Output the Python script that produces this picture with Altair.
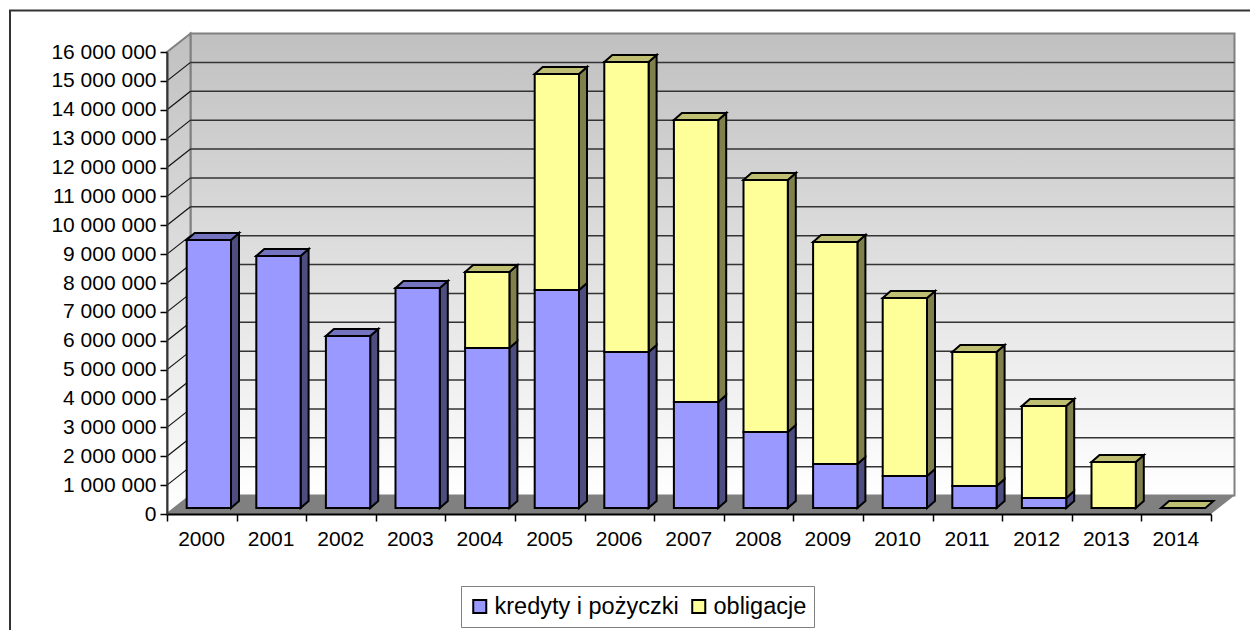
import altair as alt
import pandas as pd

years = list(range(2000, 2015))
kredyty = [9280000, 8730000, 5960000, 7620000, 5540000, 7550000, 5400000, 3670000,
           2630000, 1520000, 1110000, 760000, 350000, 0, 0]
obligacje = [0, 0, 0, 0, 2630000, 7480000, 10050000, 9770000,
             8730000, 7690000, 6160000, 4640000, 3180000, 1590000, 0]
series_names = ["kredyty i pożyczki", "obligacje"]
front_colors = ["#9999ff", "#ffff99"]
side_colors = ["#4d4d80", "#80804d"]
top_colors = ["#7373bf", "#bfbf73"]

PLOT_W, PLOT_H = 1044, 462
YMAX = 16000000
px_x = 15 / PLOT_W            # years per pixel
px_y = YMAX / PLOT_H          # value units per pixel
wall_dx, wall_dy = 23.5 * px_x, 18.5 * px_y
bar_ox, bar_oy = 11.7 * px_x, 6 * px_y
bar_w = 44.3 * px_x
bar_dx, bar_dy = 8 * px_x, 7 * px_y

FONT = "Liberation Sans"
sx = alt.Scale(domain=[2000, 2015], nice=False, zero=False)
sy = alt.Scale(domain=[0, YMAX], nice=False, zero=False)
x_axis = alt.Axis(values=years + [2015], labelExpr="datum.value < 2015 ? '' + datum.value : ''",
                  labelOffset=34, labelFont=FONT, labelFontSize=21, labelColor="black",
                  labelPadding=7, tickSize=7, tickColor="black", tickWidth=1.5,
                  domainColor="black", domainWidth=2, grid=False, zindex=1, labelFlush=False,
                  labelOverlap=False)
y_axis = alt.Axis(values=list(range(0, YMAX + 1, 1000000)),
                  labelExpr="replace(format(datum.value, ','), regexp(',', 'g'), ' ')",
                  labelFont=FONT, labelFontSize=21, labelColor="black", labelPadding=4,
                  tickSize=7, tickColor="black", tickWidth=1.5, domainColor="#333333",
                  domainWidth=2, grid=False, zindex=1, labelOverlap=False)


def X(f):
    return alt.X(f, type="quantitative", scale=sx, axis=x_axis, title=None)


def Y(f):
    return alt.Y(f, type="quantitative", scale=sy, axis=y_axis, title=None)


grad = {"gradient": "linear", "x1": 0, "y1": 0, "x2": 0, "y2": 1,
        "stops": [{"offset": 0, "color": "#c0c0c0"}, {"offset": 1, "color": "#ffffff"}]}
GRID = "#333333"
EDGE = "#808080"
one = pd.DataFrame({"a": [0]})

# chart frame
frame = alt.Chart(one).mark_rect(fill="white", stroke="#333333", strokeWidth=2).encode(
    x=alt.value(-157), x2=alt.value(1100), y=alt.value(-41.5), y2=alt.value(600))

# back wall, left wall, floor
back = alt.Chart(pd.DataFrame({"x": [2000 + wall_dx], "x2": [2015 + wall_dx],
                               "y": [wall_dy], "y2": [YMAX + wall_dy]})
                 ).mark_rect(fill=grad, stroke=EDGE, strokeWidth=2).encode(
    x=X("x"), x2="x2", y=Y("y"), y2="y2")
left = alt.Chart(pd.DataFrame({"x": [2000, 2000 + wall_dx], "y": [0, wall_dy],
                               "y2": [YMAX, YMAX + wall_dy]})
                 ).mark_area(fill=grad, stroke=EDGE, strokeWidth=2).encode(
    x=X("x"), y=Y("y"), y2="y2")
floor = alt.Chart(pd.DataFrame({"y": [0, wall_dy], "x": [2000, 2000 + wall_dx],
                                "x2": [2015, 2015 + wall_dx]})
                  ).mark_area(orient="horizontal", fill=EDGE).encode(
    y=Y("y"), x=X("x"), x2="x2")

# grid lines
levels = list(range(1000000, YMAX, 1000000))
back_grid = alt.Chart(pd.DataFrame(
    [{"k": v, "x": 2000 + wall_dx, "y": v + wall_dy} for v in levels]
    + [{"k": v, "x": 2015 + wall_dx, "y": v + wall_dy} for v in levels])
).mark_line(color=GRID, strokeWidth=1.5).encode(x=X("x"), y=Y("y"), detail="k:N")
left_grid = alt.Chart(pd.DataFrame(
    [{"k": v, "x": 2000, "y": v} for v in levels]
    + [{"k": v, "x": 2000 + wall_dx, "y": v + wall_dy} for v in levels])
).mark_line(color="#111111", strokeWidth=1.2).encode(x=X("x"), y=Y("y"), detail="k:N")

# bars
fronts, sides, tops = [], [], []
for i, yr in enumerate(years):
    xl = yr + bar_ox + bar_dx
    xr = xl + bar_w
    base = bar_oy
    segs = [(0, kredyty[i]), (1, obligacje[i])]
    top_s = 1 if obligacje[i] > 0 or kredyty[i] == 0 else 0
    for s, v in segs:
        if v > 0:
            lo, hi = base, base + v
            fronts.append({"series": series_names[s], "x": xl, "x2": xr, "y": lo, "y2": hi})
            for xx, dd in ((xr, 0), (xr + bar_dx, bar_dy)):
                sides.append({"s": s, "k": yr, "x": xx, "y": lo + dd, "y2": hi + dd})
            base = hi
    for xa, xb, yy in ((xl, xr, base), (xl + bar_dx, xr + bar_dx, base + bar_dy)):
        tops.append({"s": top_s, "k": yr, "x": xa, "x2": xb, "y": yy})

sides_df = pd.DataFrame(sides)
tops_df = pd.DataFrame(tops)

bar_layers = []
for s in (0, 1):
    bar_layers.append(alt.Chart(sides_df[sides_df.s == s]).mark_area(
        fill=side_colors[s], stroke="black", strokeWidth=2, strokeJoin="miter").encode(
        x=X("x"), y=Y("y"), y2="y2", detail="k:N"))
    bar_layers.append(alt.Chart(tops_df[tops_df.s == s]).mark_area(
        orient="horizontal", fill=top_colors[s], stroke="black", strokeWidth=2, strokeJoin="miter").encode(
        y=Y("y"), x=X("x"), x2="x2", detail="k:N"))

front = alt.Chart(pd.DataFrame(fronts)).mark_rect(stroke="black", strokeWidth=2).encode(
    x=X("x"), x2="x2", y=Y("y"), y2="y2",
    color=alt.Color("series:N",
                    scale=alt.Scale(domain=series_names, range=front_colors),
                    sort=series_names, title=None,
                    legend=alt.Legend(orient="none", legendX=294, legendY=534, direction="horizontal",
                                      fillColor="white", strokeColor=EDGE, padding=7,
                                      symbolType="square", symbolSize=170, symbolStrokeWidth=2,
                                      symbolStrokeColor="black", symbolOpacity=1,
                                      labelFont=FONT, labelFontSize=23.5, labelColor="black",
                                      labelLimit=300, columnPadding=8, labelOffset=3,
                                      symbolOffset=0, clipHeight=27)))

chart = alt.layer(frame, back, left, floor, back_grid, left_grid, *bar_layers, front).properties(
    width=PLOT_W, height=PLOT_H,
    padding={"left": 159, "top": 44, "right": 39, "bottom": 116},
    autosize=alt.AutoSizeParams(type="none"),
).configure_view(stroke=None)

chart.save("out.html", embed_options={"renderer": "svg", "actions": False})
